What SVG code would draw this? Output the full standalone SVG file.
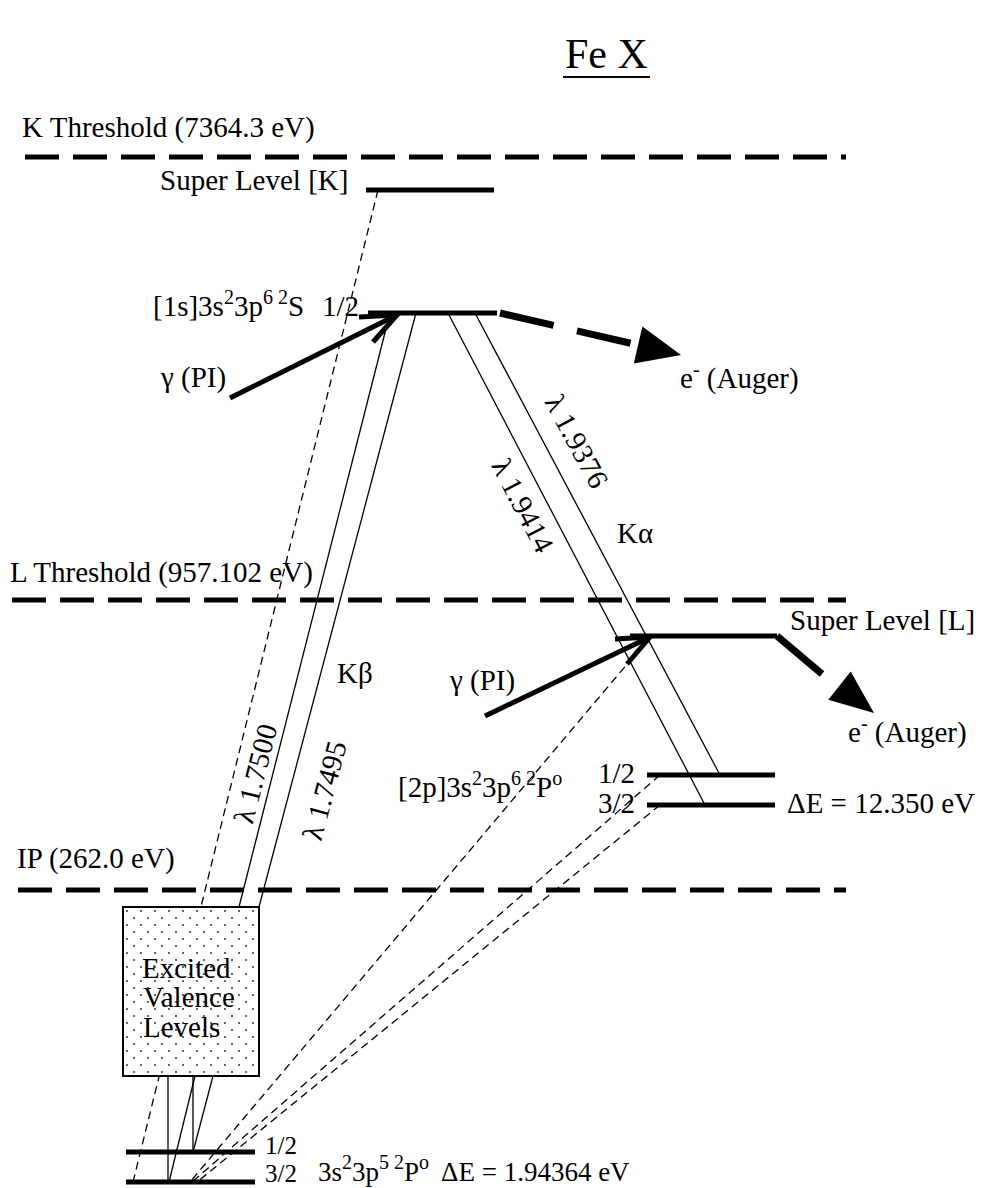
<svg xmlns="http://www.w3.org/2000/svg" width="984" height="1188" viewBox="0 0 984 1188">
  <style>
    text { font-family: "Liberation Serif", "Times New Roman", serif; font-size: 29px; fill: #000; }
    .sup { font-size: 20px; }
    .small { font-size: 27px; }
    .jlabel { font-size: 25px; }
    .threshold { stroke: #000; stroke-width: 5; stroke-dasharray: 34 14; fill: none; }
    .level { stroke: #000; stroke-width: 5; fill: none; }
    .thin { stroke: #000; stroke-width: 1.3; fill: none; }
    .dash { stroke: #000; stroke-width: 1.3; stroke-dasharray: 8 5; fill: none; }
    .photon { stroke: #000; stroke-width: 5; fill: none; stroke-linejoin: miter; }
    .auger { stroke: #000; stroke-width: 7; fill: none; }
  </style>
  <defs>
    <pattern id="dots" width="14" height="14" patternUnits="userSpaceOnUse" x="123" y="907">
      <rect width="14" height="14" fill="#fff"/>
      <circle cx="4" cy="4" r="1" fill="#333"/>
      <circle cx="11" cy="11" r="1" fill="#333"/>
    </pattern>
  </defs>
  <rect width="984" height="1188" fill="#fff"/>

  <!-- title -->
  <g id="title">
    <text x="565" y="68" style="font-size:42px">Fe X</text>
    <line x1="563" y1="77" x2="650" y2="77" stroke="#000" stroke-width="2"/>
  </g>

  <!-- ionisation thresholds -->
  <g id="k-threshold">
    <line class="threshold" x1="25" y1="157" x2="846" y2="157"/>
    <text x="22" y="137">K Threshold (7364.3 eV)</text>
  </g>
  <g id="l-threshold">
    <line class="threshold" x1="12" y1="600" x2="846" y2="600"/>
    <text x="10" y="582">L Threshold (957.102 eV)</text>
  </g>
  <g id="ip-threshold">
    <line class="threshold" x1="18" y1="890" x2="846" y2="890"/>
    <text x="17" y="868">IP (262.0 eV)</text>
  </g>

  <!-- connectors: radiative lines, recombination paths, photoionisation and Auger arrows -->
  <g id="connectors">
    <!-- recombination / cascade paths (dashed) -->
    <line class="dash" x1="378" y1="190" x2="133" y2="1182"/>
    <line class="dash" x1="650" y1="637" x2="190" y2="1182"/>
    <line class="dash" x1="660" y1="775" x2="192" y2="1182"/>
    <line class="dash" x1="660" y1="805" x2="197" y2="1182"/>
    <!-- K beta -->
    <line class="thin" x1="390" y1="313" x2="239" y2="907"/>
    <line class="thin" x1="416" y1="313" x2="259" y2="907"/>
    <!-- K alpha -->
    <line class="thin" x1="448" y1="313" x2="705" y2="805"/>
    <line class="thin" x1="475" y1="313" x2="720" y2="775"/>
    <!-- decays from the valence block to the ground term -->
    <line class="thin" x1="168" y1="1076" x2="168" y2="1182"/>
    <line class="thin" x1="195" y1="1076" x2="169" y2="1182"/>
    <line class="thin" x1="193" y1="1076" x2="193" y2="1152"/>
    <line class="thin" x1="213" y1="1076" x2="193" y2="1152"/>

    <!-- photoionisation into the K hole -->
    <line class="photon" x1="230" y1="398" x2="397" y2="315"/>
    <polyline class="photon" points="359,317 397,315 373,342"/>
    <!-- photoionisation into the L hole -->
    <line class="photon" x1="485" y1="716" x2="650" y2="637"/>
    <polyline class="photon" points="615,639 650,637 627,664"/>

    <!-- Auger from K hole -->
    <line class="auger" x1="500" y1="313" x2="638" y2="345" stroke-dasharray="55 24"/>
    <polygon points="642.4,326.6 681,355 633.8,363.6" fill="#000"/>
    <!-- Auger from L hole -->
    <line class="auger" x1="777" y1="636" x2="822" y2="674"/>
    <polygon points="850.7,671.5 874,713 828.3,699.7" fill="#000"/>
  </g>

  <g id="super-level-k">
    <line class="level" x1="366" y1="190" x2="494" y2="190"/>
    <text x="160" y="190">Super Level [K]</text>
  </g>

  <g id="k-hole-level">
    <line class="level" x1="368" y1="313" x2="497" y2="313"/>
    <text x="153" y="316">[1s]3s<tspan class="sup" dy="-12">2</tspan><tspan dy="12">3p</tspan><tspan class="sup" dy="-12">6 2</tspan><tspan dy="12">S</tspan></text>
    <text x="322" y="316">1/2</text>
  </g>

  <g id="photon-labels">
    <text x="161" y="387">γ (PI)</text>
    <text x="450" y="690">γ (PI)</text>
  </g>

  <g id="auger-labels">
    <text x="680" y="388">e<tspan class="sup" dy="-12">-</tspan><tspan dy="12"> (Auger)</tspan></text>
    <text x="848" y="742">e<tspan class="sup" dy="-12">-</tspan><tspan dy="12"> (Auger)</tspan></text>
  </g>

  <g id="line-labels">
    <text x="617" y="543">Kα</text>
    <text x="337" y="683">Kβ</text>
    <text text-anchor="middle" transform="translate(568,446) rotate(61.6)">λ 1.9376</text>
    <text text-anchor="middle" transform="translate(514,510) rotate(62.5)">λ 1.9414</text>
    <text text-anchor="middle" transform="translate(265,776) rotate(-75.7)">λ 1.7500</text>
    <text text-anchor="middle" transform="translate(334,793) rotate(-75.2)">λ 1.7495</text>
  </g>

  <g id="super-level-l">
    <line class="level" x1="630" y1="636" x2="777" y2="636"/>
    <text x="790" y="630">Super Level [L]</text>
  </g>

  <g id="l-hole-term">
    <line class="level" x1="647" y1="775" x2="775" y2="775"/>
    <line class="level" x1="647" y1="805" x2="775" y2="805"/>
    <text x="598" y="783">1/2</text>
    <text x="598" y="813">3/2</text>
    <text x="398" y="797">[2p]3s<tspan class="sup" dy="-12">2</tspan><tspan dy="12">3p</tspan><tspan class="sup" dy="-12">6 2</tspan><tspan dy="12">P</tspan><tspan class="sup" dy="-12">o</tspan></text>
    <text x="787" y="813">ΔE = 12.350 eV</text>
  </g>

  <g id="excited-valence">
    <rect x="123" y="907" width="136" height="169" fill="url(#dots)" stroke="#000" stroke-width="2"/>
    <text x="142" y="978">Excited</text>
    <text x="143" y="1007">Valence</text>
    <text x="143" y="1037">Levels</text>
  </g>

  <g id="ground-term">
    <line class="level" x1="126" y1="1152" x2="255" y2="1152"/>
    <line class="level" x1="126" y1="1182" x2="255" y2="1182"/>
    <text class="jlabel" x="265" y="1154">1/2</text>
    <text class="jlabel" x="265" y="1182">3/2</text>
    <text class="small" x="318" y="1181">3s<tspan class="sup" dy="-12">2</tspan><tspan dy="12">3p</tspan><tspan class="sup" dy="-12">5 2</tspan><tspan dy="12">P</tspan><tspan class="sup" dy="-12">o</tspan><tspan dx="12" dy="12">ΔE = 1.94364 eV</tspan></text>
  </g>
</svg>
